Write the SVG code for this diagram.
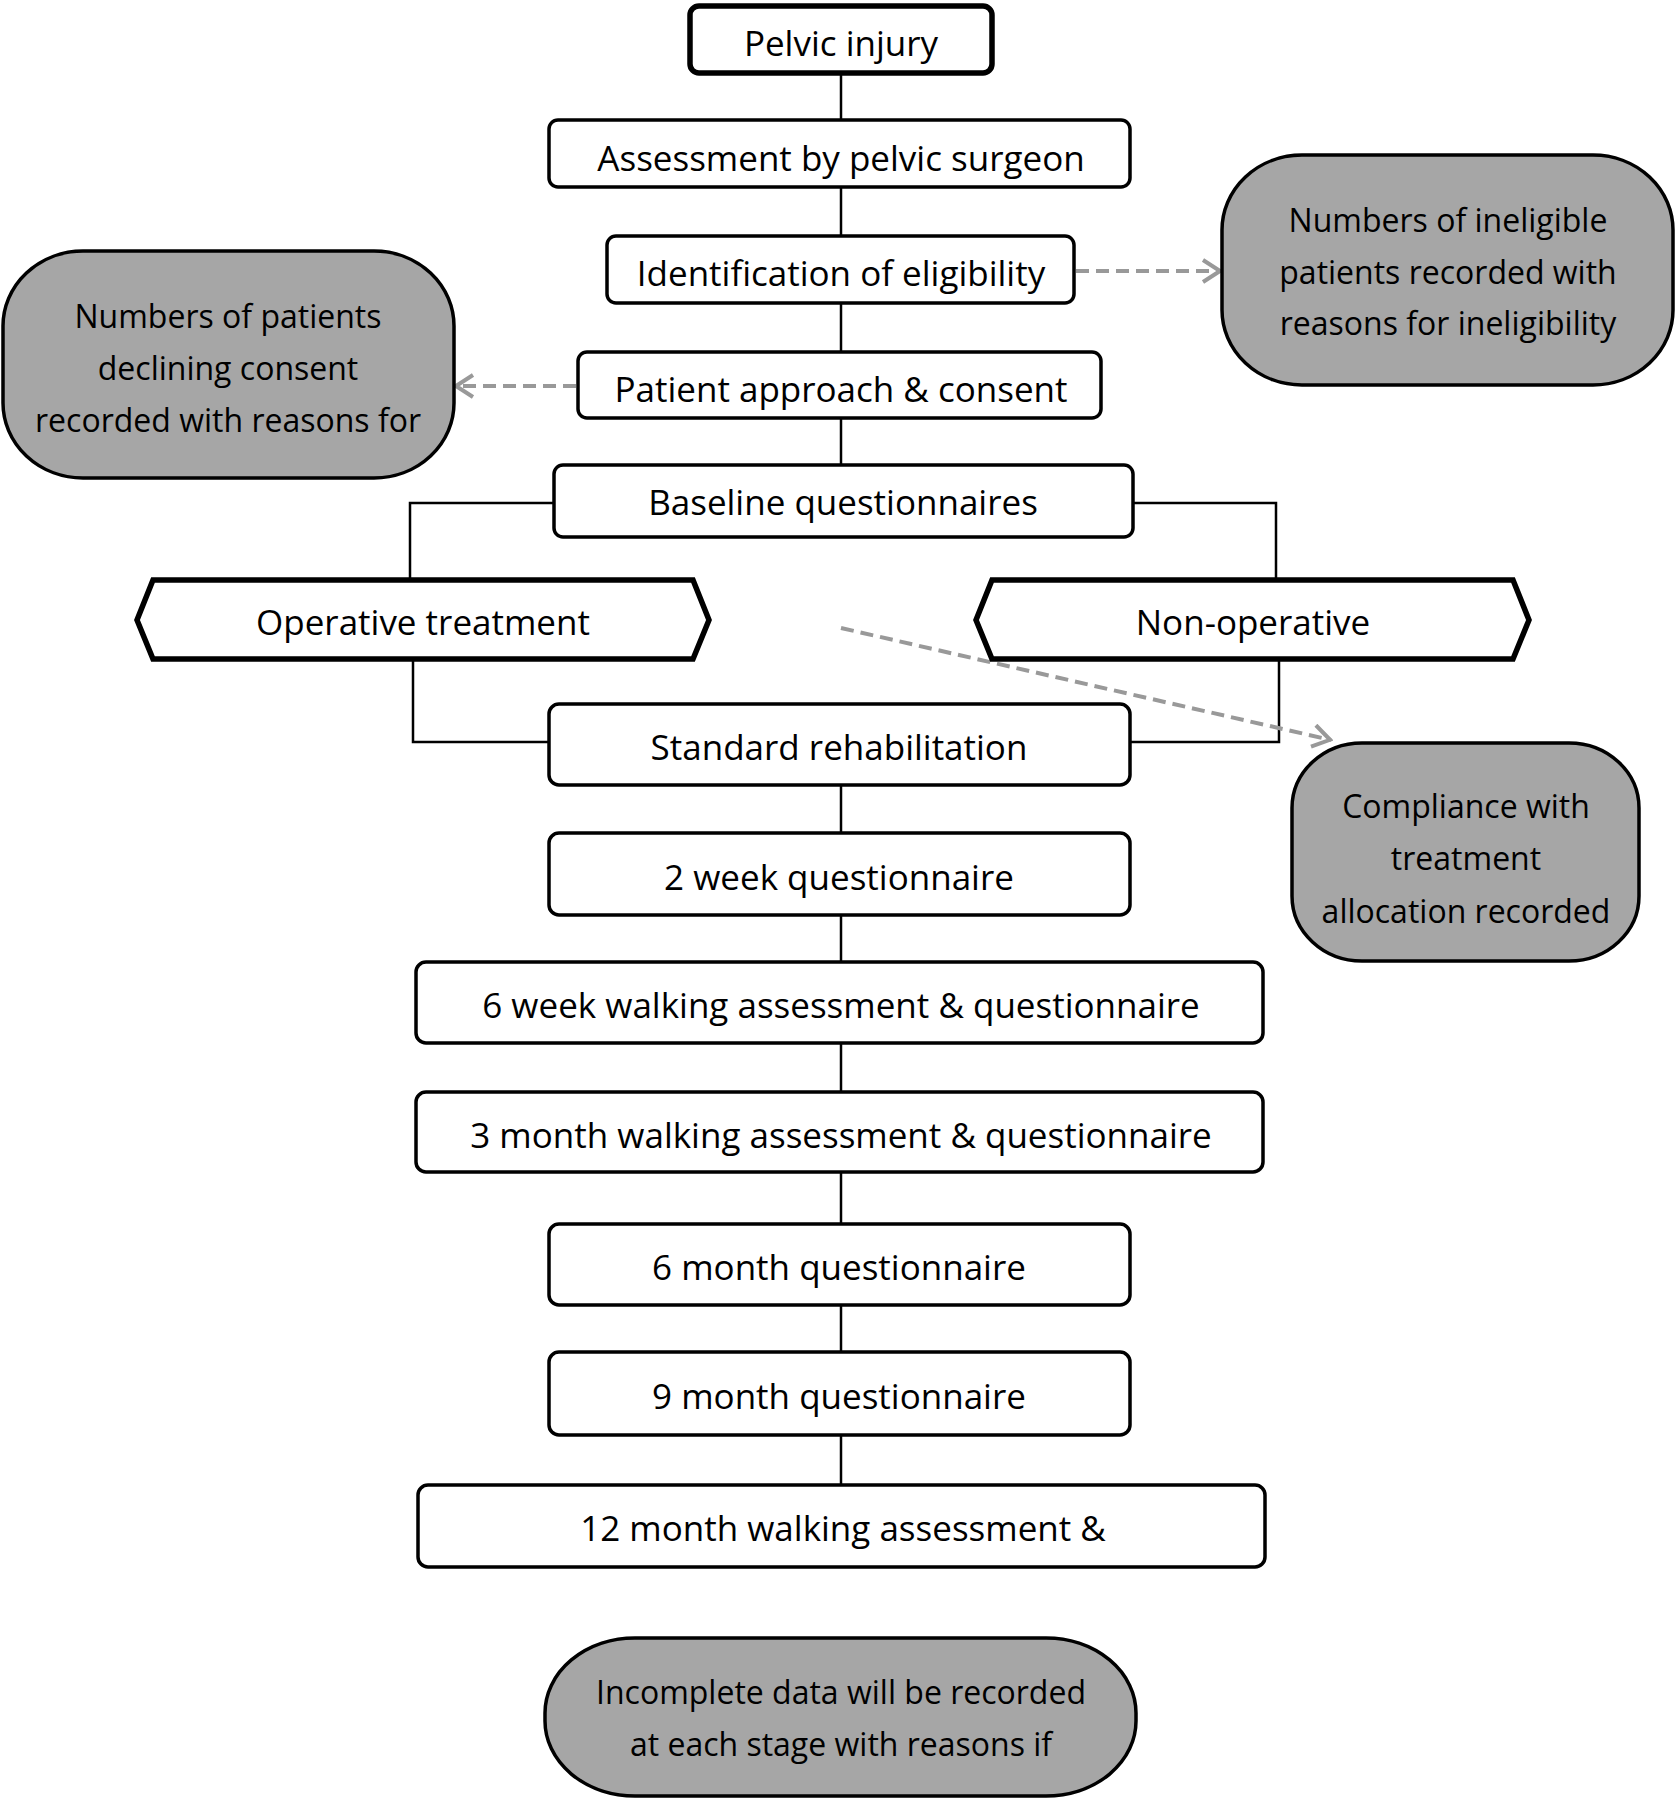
<svg xmlns="http://www.w3.org/2000/svg" width="1677" height="1800" viewBox="0 0 1677 1800">
<defs>
<style>
.box{fill:#fff;stroke:#000;stroke-width:3.5}
.thick{fill:#fff;stroke:#000;stroke-width:5.5}
.gray{fill:#a6a6a6;stroke:#000;stroke-width:3.5}
.t{font-family:"Open Sans","Noto Sans",sans-serif;font-size:35px;fill:#000;text-anchor:middle;dominant-baseline:central}
.tg{font-family:"Open Sans","Noto Sans",sans-serif;font-size:32px;fill:#000;text-anchor:middle;dominant-baseline:central}
.ln{fill:none;stroke:#000;stroke-width:2.5}
.dash{fill:none;stroke:#999;stroke-width:4;stroke-dasharray:13 7}
</style>
<marker id="ah" viewBox="0 0 24 26" refX="22" refY="13" markerWidth="24" markerHeight="26" markerUnits="userSpaceOnUse" orient="auto">
<path d="M4,2 L21,13 L4,24" fill="none" stroke="#999" stroke-width="4"/>
</marker>
</defs>
<rect width="1677" height="1800" fill="#fff"/>
<g id="connectors">
<line class="ln" x1="841" y1="73" x2="841" y2="120"/>
<line class="ln" x1="841" y1="187" x2="841" y2="236"/>
<line class="ln" x1="841" y1="303" x2="841" y2="352"/>
<line class="ln" x1="841" y1="418" x2="841" y2="465"/>
<polyline class="ln" points="554,503 410,503 410,580"/>
<polyline class="ln" points="1133,503 1276,503 1276,580"/>
<polyline class="ln" points="413,659 413,742 549,742"/>
<polyline class="ln" points="1279,659 1279,742 1130,742"/>
<line class="ln" x1="841" y1="785" x2="841" y2="833"/>
<line class="ln" x1="841" y1="915" x2="841" y2="962"/>
<line class="ln" x1="841" y1="1043" x2="841" y2="1092"/>
<line class="ln" x1="841" y1="1172" x2="841" y2="1224"/>
<line class="ln" x1="841" y1="1305" x2="841" y2="1352"/>
<line class="ln" x1="841" y1="1435" x2="841" y2="1485"/>
<line class="dash" x1="1076" y1="271" x2="1221" y2="271" marker-end="url(#ah)"/>
<line class="dash" x1="576" y1="386" x2="455" y2="386" marker-end="url(#ah)"/>
<line class="dash" x1="841" y1="628" x2="1331" y2="740" marker-end="url(#ah)"/>
</g>
<g id="n-pelvic"><rect class="thick" x="690" y="6" width="302" height="67" rx="9"/><text class="t" x="841" y="42">Pelvic injury</text></g>
<g id="n-assess"><rect class="box" x="549" y="120" width="581" height="67" rx="9"/><text class="t" x="841" y="157">Assessment by pelvic surgeon</text></g>
<g id="n-ident"><rect class="box" x="607" y="236" width="467" height="67" rx="9"/><text class="t" x="841" y="272">Identification of eligibility</text></g>
<g id="n-approach"><rect class="box" x="578" y="352" width="523" height="66" rx="9"/><text class="t" x="841" y="388">Patient approach &amp; consent</text></g>
<g id="n-baseline"><rect class="box" x="554" y="465" width="579" height="72" rx="9"/><text class="t" x="843" y="501">Baseline questionnaires</text></g>
<g id="n-operative"><polygon class="thick" points="137,620 153,580 693,580 709,620 693,659 153,659"/><text class="t" x="423" y="621">Operative treatment</text></g>
<g id="n-nonop"><polygon class="thick" points="976,620 992,580 1513,580 1529,620 1513,659 992,659"/><text class="t" x="1253" y="621">Non-operative</text></g>
<g id="n-rehab"><rect class="box" x="549" y="704" width="581" height="81" rx="10"/><text class="t" x="839" y="746">Standard rehabilitation</text></g>
<g id="n-2wk"><rect class="box" x="549" y="833" width="581" height="82" rx="10"/><text class="t" x="839" y="876">2 week questionnaire</text></g>
<g id="n-6wk"><rect class="box" x="416" y="962" width="847" height="81" rx="10"/><text class="t" x="841" y="1004">6 week walking assessment &amp; questionnaire</text></g>
<g id="n-3mo"><rect class="box" x="416" y="1092" width="847" height="80" rx="10"/><text class="t" x="841" y="1134">3 month walking assessment &amp; questionnaire</text></g>
<g id="n-6mo"><rect class="box" x="549" y="1224" width="581" height="81" rx="10"/><text class="t" x="839" y="1266">6 month questionnaire</text></g>
<g id="n-9mo"><rect class="box" x="549" y="1352" width="581" height="83" rx="10"/><text class="t" x="839" y="1395">9 month questionnaire</text></g>
<g id="n-12mo"><rect class="box" x="418" y="1485" width="847" height="82" rx="10"/><text class="t" x="843" y="1527">12 month walking assessment &amp;</text></g>
<g id="n-ineligible"><rect class="gray" x="1222" y="155" width="451" height="230" rx="80" ry="75"/><text class="tg" x="1448" y="219">Numbers of ineligible</text><text class="tg" x="1448" y="271">patients recorded with</text><text class="tg" x="1448" y="322">reasons for ineligibility</text></g>
<g id="n-declining"><rect class="gray" x="3" y="251" width="451" height="227" rx="80" ry="75"/><text class="tg" x="228" y="315">Numbers of patients</text><text class="tg" x="228" y="367">declining consent</text><text class="tg" x="228" y="419">recorded with reasons for</text></g>
<g id="n-compliance"><rect class="gray" x="1292" y="743" width="347" height="218" rx="70" ry="65"/><text class="tg" x="1466" y="805">Compliance with</text><text class="tg" x="1466" y="857">treatment</text><text class="tg" x="1466" y="910">allocation recorded</text></g>
<g id="n-incomplete"><rect class="gray" x="545" y="1638" width="591" height="158" rx="90" ry="75"/><text class="tg" x="841" y="1691">Incomplete data will be recorded</text><text class="tg" x="841" y="1743">at each stage with reasons if</text></g>
</svg>
